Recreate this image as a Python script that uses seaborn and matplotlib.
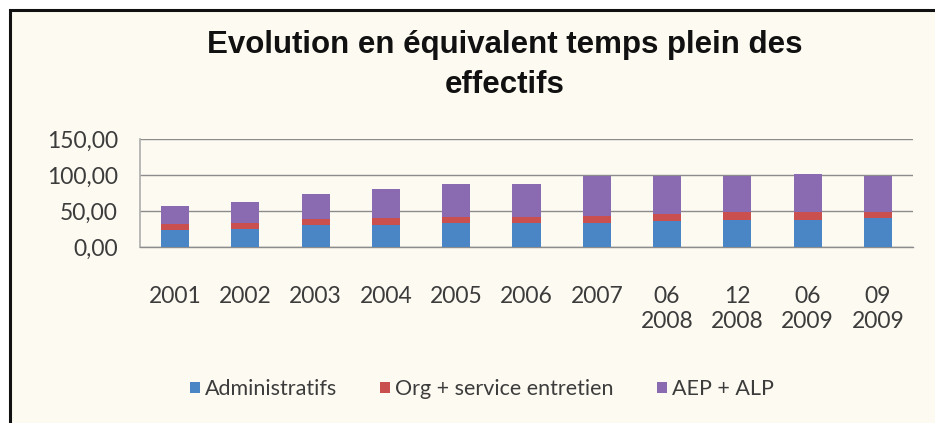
import matplotlib
matplotlib.use("Agg")
import matplotlib.pyplot as plt
from matplotlib.patches import Patch, Rectangle
from matplotlib.ticker import FixedLocator
import numpy as np
import pandas as pd
import seaborn as sns

# values (full-time equivalents)
periods = ["2001", "2002", "2003", "2004", "2005", "2006", "2007",
           "06\n2008", "12\n2008", "06\n2009", "09\n2009"]
administratifs = [23, 25, 30, 30, 33, 33, 34, 36, 37, 38, 40]
org_entretien = [9, 9, 9, 10, 8, 8, 9, 10, 11, 11, 9]
aep_alp = [25, 29, 34, 41, 46, 47, 56, 53, 51, 53, 50]
series_names = ["Administratifs", "Org + service entretien", "AEP + ALP"]
yticks = [0, 50, 100, 150]

BG = "#fdfaf1"
COLORS = ["#4a86c6", "#c9504e", "#8a6ab0"]
TXT = "#3c3c3c"

df = pd.DataFrame({"period": periods, "admin": administratifs,
                   "org": org_entretien, "aep": aep_alp})
df["lvl2"] = df["admin"] + df["org"]
df["total"] = df["lvl2"] + df["aep"]

sns.set_theme(style="white")
plt.rcParams["font.family"] = ["Lato", "DejaVu Sans"]

fig = plt.figure(figsize=(9.35, 4.23), dpi=100)
fig.patch.set_facecolor("white")
fig.patches.append(Rectangle((9.5 / 935, -0.1), 1.2, 1.1 - 10.5 / 423,
                             transform=fig.transFigure, facecolor=BG,
                             edgecolor="#111111", lw=2.2, zorder=-5))

ax = fig.add_axes([140 / 935, 1 - 247 / 423, (913 - 140) / 935, (247 - 139) / 423])
ax.set_facecolor(BG)

# stacked bars drawn as overlapping cumulative totals
for col, color in zip(["total", "lvl2", "admin"], COLORS[::-1]):
    sns.barplot(data=df, x="period", y=col, color=color, width=0.4,
                saturation=1, ax=ax, zorder=3, edgecolor="none")

ax.set_ylim(0, 150)
ax.set_xlim(-0.5, len(periods) - 0.5)
ax.set_yticks(yticks)
ax.set_yticklabels([f"{v:.2f}".replace(".", ",") for v in yticks])
ax.yaxis.grid(True, color="#8c8c8c", lw=1.0)
ax.set_axisbelow(True)
ax.set_xlabel("")
ax.set_ylabel("")

for s in ["top", "right"]:
    ax.spines[s].set_visible(False)
ax.spines["left"].set_color("#b0b0b0")
ax.spines["bottom"].set_color("#8c8c8c")
ax.spines["bottom"].set_linewidth(1.0)

ax.xaxis.set_minor_locator(FixedLocator(np.arange(-0.5, len(periods), 1)))
ax.tick_params(axis="x", which="major", length=0, pad=28, labelsize=16.5, labelcolor=TXT)
ax.tick_params(axis="x", which="minor", length=5, width=1, color="#8c8c8c", direction="out")
ax.tick_params(axis="y", length=5, width=1, color="#8c8c8c", direction="out",
               labelsize=16.5, labelcolor=TXT, pad=11)
for lab in ax.get_xticklabels():
    lab.set_verticalalignment("top")
    lab.set_linespacing(1.25)

fig.text(505 / 935, 1 - 30 / 423, "Evolution en équivalent temps plein des\neffectifs",
         ha="center", va="top", fontsize=22.5, fontweight="bold",
         family=["Liberation Sans", "DejaVu Sans"], color="#111111", linespacing=1.45)

handles = [Patch(facecolor=c, edgecolor="none") for c in COLORS]
fig.legend(handles, series_names, loc="center", bbox_to_anchor=(482 / 935, 1 - 389 / 423),
           ncol=3, frameon=False, fontsize=15.5, handlelength=0.45, handleheight=0.45,
           handletextpad=0.25, columnspacing=2.0, labelcolor=TXT)

fig.savefig("out.png", dpi=100, facecolor=fig.get_facecolor())
